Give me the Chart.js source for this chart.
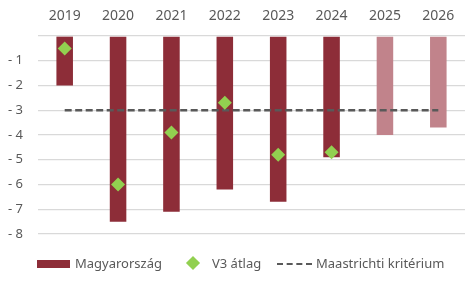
<!DOCTYPE html>
<html>
<head>
<meta charset="utf-8">
<script src="https://cdn.jsdelivr.net/npm/chart.js@4"></script>
<style>
  body { margin: 0; background: #fff; }
  #wrap { position: relative; width: 472px; height: 283px; }
  .leg { position: absolute; top: 254px; font: 13px "Noto Sans", sans-serif; color: #595959; line-height: 18px; white-space: nowrap; }
  .mark { position: absolute; }
</style>
</head>
<body>
<div id="wrap">
  <canvas id="mychart" width="472" height="283"></canvas>
  <!-- legend -->
  <span class="mark" style="left:37px;top:260px;width:33px;height:8px;background:#8d2d38"></span>
  <span class="leg" style="left:75px">Magyarország</span>
  <span class="mark" style="left:188px;top:258px;width:10px;height:10px;background:#92d050;transform:rotate(45deg)"></span>
  <span class="leg" style="left:212px">V3 átlag</span>
  <span class="mark" style="left:277px;top:263px;width:35px;height:0;border-top:2.5px dashed #595959"></span>
  <span class="leg" style="left:316px">Maastrichti kritérium</span>
</div>
<script>
// adatok
const years = ["2019", "2020", "2021", "2022", "2023", "2024", "2025", "2026"];
const magyarorszag = [-2.0, -7.5, -7.1, -6.2, -6.7, -4.9, -4.0, -3.7];
const v3Atlag = [-0.5, -6.0, -3.9, -2.7, -4.8, -4.7, null, null];
const maastricht = [-3, -3, -3, -3, -3, -3, -3, -3];
const yTicks = [0, -1, -2, -3, -4, -5, -6, -7, -8];

const barColors = years.map((y) => (Number(y) >= 2025 ? "#c1838b" : "#8d2d38"));

var ctx = document.getElementById("mychart").getContext("2d");

Chart.defaults.font.family = '"Noto Sans", sans-serif';
Chart.defaults.font.size = 13;
Chart.defaults.color = "#595959";

var myChart = new Chart(ctx, {
  type: "bar",
  data: {
    labels: years,
    datasets: [
      {
        label: "V3 átlag",
        type: "line",
        data: v3Atlag,
        showLine: false,
        pointStyle: "rectRot",
        pointRadius: 7,
        pointBorderWidth: 0,
        pointBackgroundColor: "#92d050",
        order: 0,
      },
      {
        label: "Maastrichti kritérium",
        type: "line",
        data: maastricht,
        borderColor: "#595959",
        borderWidth: 2.5,
        borderDash: [7, 3.5],
        pointRadius: 0,
        order: 1,
      },
      {
        label: "Magyarország",
        data: magyarorszag,
        backgroundColor: barColors,
        barPercentage: 0.31,
        categoryPercentage: 1,
        order: 2,
      },
    ],
  },
  options: {
    responsive: false,
    animation: false,
    layout: { padding: { left: 0, right: 7, top: 0, bottom: 49 } },
    plugins: { legend: { display: false }, tooltip: { enabled: false } },
    scales: {
      x: {
        position: "top",
        grid: { display: false, drawTicks: false },
        border: { display: false },
        ticks: { padding: 12, maxRotation: 0, font: { size: 14 } },
        afterFit: (s) => { s.height = 36; },
      },
      y: {
        min: -8,
        max: 0,
        afterBuildTicks: (s) => { s.ticks = yTicks.map((v) => ({ value: v })); },
        grid: { color: "#d9d9d9", lineWidth: 1.3, drawTicks: false },
        border: { display: false },
        ticks: {
          padding: 15,
          callback: (v) => (v === 0 ? "" : "- " + Math.abs(v)),
        },
        afterFit: (s) => { s.width = 38; },
      },
    },
  },
});
</script>
</body>
</html>
